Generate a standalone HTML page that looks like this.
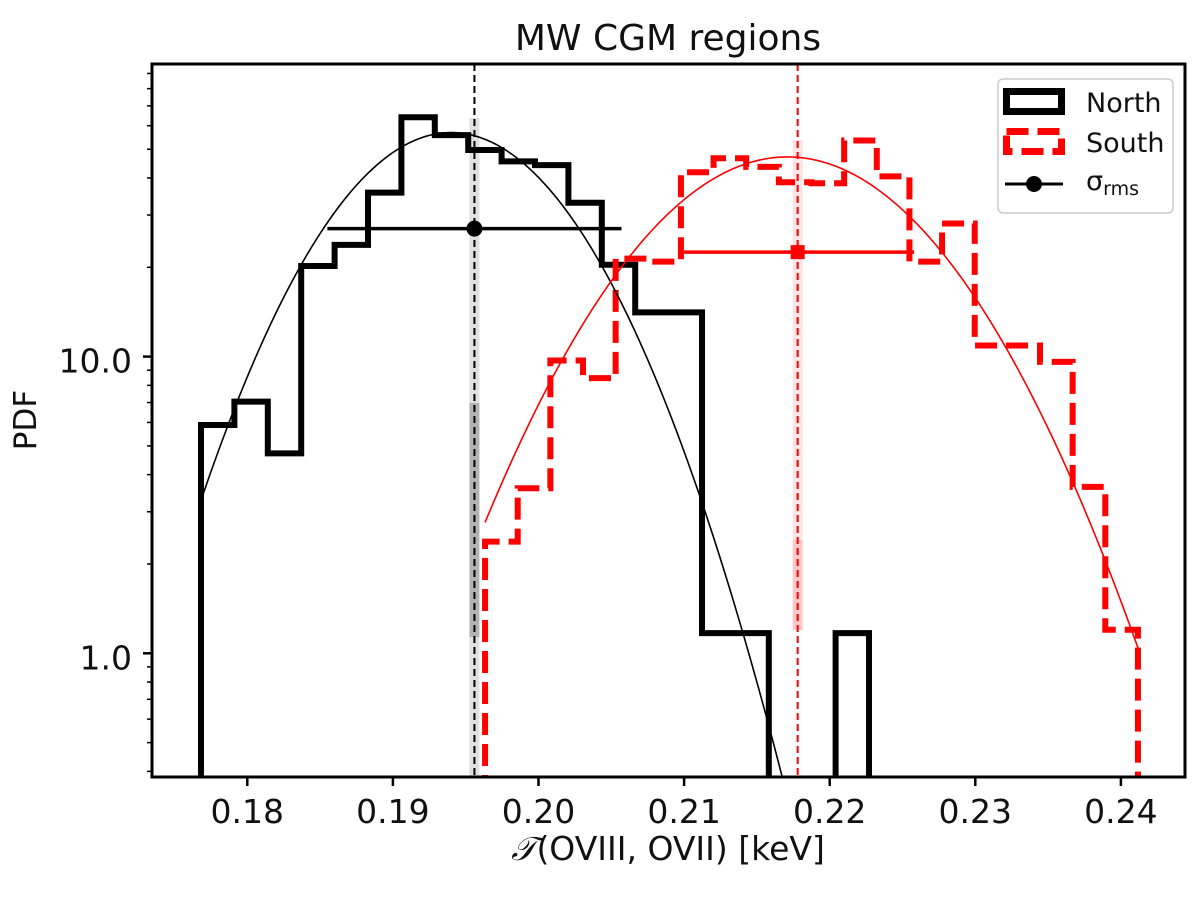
<!DOCTYPE html>
<html><head><meta charset="utf-8"><style>
html,body{margin:0;padding:0;background:#fff;}
svg{display:block;font-family:"DejaVu Sans","Liberation Sans",sans-serif;}
</style></head><body>
<svg id="chart" width="1200" height="899" viewBox="0 0 1200 899">
<text x="668" y="50" text-anchor="middle" font-size="36" fill="#111">MW CGM regions</text>
<g id="plotarea"></g>
<g id="axesgroup"></g>
<text x="668" y="860" text-anchor="middle" font-size="33" fill="#111"><tspan font-family="Liberation Serif, serif" font-style="italic">𝒯</tspan>(OVIII, OVII) [keV]</text>
<text transform="translate(36,420) rotate(-90)" text-anchor="middle" font-size="31" fill="#111">PDF</text>
<g>
<rect x="998" y="79" width="175" height="134" rx="5" fill="#fff" stroke="#ccc" stroke-width="1.5"/>
<rect x="1006.5" y="91.5" width="55" height="20" fill="none" stroke="#000" stroke-width="7"/>
<text x="1086" y="112" font-size="27" fill="#111">North</text>
<rect x="1006.5" y="131.5" width="55" height="20" fill="none" stroke="#f00" stroke-width="7" stroke-dasharray="22,9"/>
<text x="1086" y="152" font-size="27" fill="#111">South</text>
<line x1="1005" y1="184" x2="1063" y2="184" stroke="#000" stroke-width="3"/>
<circle cx="1034" cy="184" r="8" fill="#000"/>
<text x="1086" y="190" font-size="27" fill="#111">σ<tspan font-size="19" dy="5">rms</tspan></text>
</g>
</svg>
<script>
var northStart = 0.17682, northWidth = 0.002294;
var northCounts = [5.88,7.05,4.72,20.2,23.8,35.7,64.1,55.8,49.7,45.5,44.2,33.0,20.4,14.1,14.1,1.17,1.17,0,0,1.17];
var southStart = 0.19633, southWidth = 0.002242;
var southCounts = [2.38,3.60,9.7,8.46,21.4,20.9,41.8,46.6,43.6,38.7,38.4,53.5,40.5,20.9,28.1,10.9,10.9,9.6,3.64,1.2];
var northFit = [56.9, 0.1940, 0.00719];
var southFit = [47.1, 0.2171, 0.00872];
var northFitRange = [0.17682, 0.2180];
var southFitRange = [0.19633, 0.2412];
var northMean = 0.1956, southMean = 0.2178;
var northRms = [0.1855, 0.2057, 27.0];
var southRms = [0.2100, 0.2258, 22.5];
var xTicks = [0.18,0.19,0.20,0.21,0.22,0.23,0.24];
var xTickLabels = ["0.18","0.19","0.20","0.21","0.22","0.23","0.24"];
var yMajor = [1, 10];
var yMajorLabels = ["1.0","10.0"];

function drawChart(){
  var PL=152,PR=1185,PT=64,PB=777;
  function sx(v){ return 247.3 + (v-0.18)*14560; }
  function sy(v){ return 653.3 - Math.log10(v)*296.7; }
  var svgNS="http://www.w3.org/2000/svg";
  var plotEl=document.getElementById('plotarea'), axesEl=document.getElementById('axesgroup');
  function make(tag,attrs,parent){var n=document.createElementNS(svgNS,tag);for(var k in attrs)n.setAttribute(k,attrs[k]);parent.appendChild(n);return n;}

  var defs=make('defs',{},plotEl);
  var cp=make('clipPath',{id:'clp'},defs);
  make('rect',{x:PL,y:PT,width:PR-PL,height:PB-PT},cp);
  var grp=make('g',{'clip-path':'url(#clp)'},plotEl);
  var el;

  el=make('rect',{x:sx(northMean)-5,y:118,width:10,height:PB-118,fill:'#000',opacity:0.12},grp);
  
  
  el=make('rect',{x:sx(northMean)-5,y:403,width:10,height:234,fill:'#000',opacity:0.2},grp);
  
  
  el=make('rect',{x:sx(southMean)-5,y:140,width:10,height:490,fill:'#f00',opacity:0.1},grp);
  
  
  el=make('rect',{x:sx(southMean)-5,y:540,width:10,height:90,fill:'#f00',opacity:0.12},grp);
  
  

  function histPath(start,w,counts){
    var d='M'+sx(start)+','+(PB+20);
    for(var i=0;i<counts.length;i++){
      var c=counts[i];
      var y=c>0?sy(c):PB+20;
      d+=' L'+sx(start+i*w)+','+y+' L'+sx(start+(i+1)*w)+','+y;
    }
    d+=' L'+sx(start+counts.length*w)+','+(PB+20);
    return d;
  }
  el=make('path',{d:histPath(northStart,northWidth,northCounts),fill:'none',stroke:'#000','stroke-width':6},grp);
  
  
  el=make('path',{d:histPath(southStart,southWidth,southCounts),fill:'none',stroke:'#f00','stroke-width':6,'stroke-dasharray':'22,9'},grp);
  
  

  function fitPath(p,r){
    var d='';
    for(var i=0;i<=200;i++){var x=r[0]+(r[1]-r[0])*i/200;
      var v=p[0]*Math.exp(-Math.pow(x-p[1],2)/(2*p[2]*p[2]));
      d+=(i?' L':'M')+sx(x).toFixed(2)+','+sy(v).toFixed(2);}
    return d;
  }
  el=make('path',{d:fitPath(northFit,northFitRange),fill:'none',stroke:'#000','stroke-width':1.6},grp);
  
  
  el=make('path',{d:fitPath(southFit,southFitRange),fill:'none',stroke:'#f00','stroke-width':1.6},grp);
  
  

  el=make('line',{x1:sx(northMean),x2:sx(northMean),y1:PT,y2:PB,stroke:'#000','stroke-width':2,'stroke-dasharray':'7,4'},grp);
  
  
  el=make('line',{x1:sx(southMean),x2:sx(southMean),y1:PT,y2:PB,stroke:'#f00','stroke-width':2,'stroke-dasharray':'7,4'},grp);
  
  

  el=make('line',{x1:sx(northRms[0]),x2:sx(northRms[1]),y1:sy(northRms[2]),y2:sy(northRms[2]),stroke:'#000','stroke-width':3.5},grp);
  
  
  el=make('circle',{cx:sx(northMean),cy:sy(northRms[2]),r:8,fill:'#000'},grp);
  
  
  el=make('line',{x1:sx(southRms[0]),x2:sx(southRms[1]),y1:sy(southRms[2]),y2:sy(southRms[2]),stroke:'#f00','stroke-width':3.5},grp);
  
  
  el=make('rect',{x:sx(southMean)-7,y:sy(southRms[2])-7,width:14,height:14,fill:'#f00'},grp);
  
  

  el=make('rect',{x:PL,y:PT,width:PR-PL,height:PB-PT,fill:'none',stroke:'#000','stroke-width':3},axesEl);
  
  
  for(var i=0;i<xTicks.length;i++){
    var v=xTicks[i];
    var t=make('line',{x1:sx(v),x2:sx(v),y1:PB,y2:PB+9,stroke:'#000','stroke-width':2.5},axesEl);
    
    
    var s=make('text',{x:sx(v),y:PB+46,'text-anchor':'middle','font-size':33,fill:'#111'},axesEl);
    s.textContent=xTickLabels[i];
    
    
  }
  for(var j=0;j<yMajor.length;j++){
    var yv=yMajor[j];
    var t2=make('line',{x1:PL-9,x2:PL,y1:sy(yv),y2:sy(yv),stroke:'#000','stroke-width':2.5},axesEl);
    
    
    var s2=make('text',{x:PL-20,y:sy(yv)+16,'text-anchor':'end','font-size':33,fill:'#111'},axesEl);
    s2.textContent=yMajorLabels[j];
    
    
  }
  var decs=[0.1,1,10];
  for(var a=0;a<decs.length;a++){for(var m=2;m<=9;m++){var yy=sy(decs[a]*m);
    if(yy<PT||yy>PB)continue;
    var t3=make('line',{x1:PL-5,x2:PL,y1:yy,y2:yy,stroke:'#000','stroke-width':1.5},axesEl);
    
    }}
}
drawChart();
</script>
</body></html>
